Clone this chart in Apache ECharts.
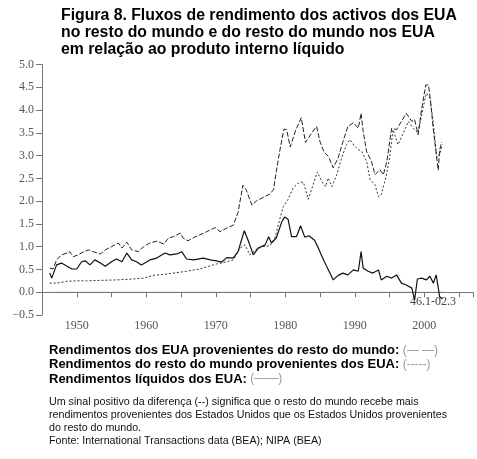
<!DOCTYPE html>
<html>
<head>
<meta charset="utf-8">
<script src="https://cdn.jsdelivr.net/npm/echarts@6/dist/echarts.min.js"></script>
<style>
  html, body { margin: 0; padding: 0; background: #fff; }
  #chart { width: 477px; height: 459px; }
</style>
</head>
<body>
<div id="chart"></div>
<script>
// Rendimentos dos EUA provenientes do resto do mundo (— —)
var recYears = [1946.1, 1946.6, 1947.1, 1947.8, 1948.6, 1949.0, 1949.5, 1950.2, 1951.0, 1951.7, 1952.4, 1953.4, 1954.1, 1955.0, 1956.0, 1956.5, 1957.2, 1957.9, 1958.9, 1959.6,
  1960.5, 1961.5, 1962.5, 1963.2, 1963.9, 1964.9, 1965.3, 1966.0, 1966.8, 1967.7, 1968.7, 1969.9, 1970.6, 1971.6, 1972.5, 1973.2, 1973.9, 1974.4, 1975.2, 1975.9,
  1976.8, 1977.8, 1978.3, 1978.7, 1979.2, 1979.8, 1980.2, 1980.7, 1981.5, 1982.3, 1982.9, 1983.4, 1983.8, 1984.5, 1985.0, 1985.6, 1986.2, 1986.9, 1987.6, 1988.3,
  1989.0, 1989.8, 1990.5, 1990.9, 1991.2, 1991.7, 1992.4, 1992.9, 1993.6, 1994.1, 1994.6, 1995.3, 1996.0, 1996.7, 1997.4, 1998.2, 1998.6, 1999.1, 1999.6, 2000.2,
  2000.6, 2000.9, 2001.3, 2001.7, 2002.0, 2002.2, 2002.5];
var recValues = [0.53, 0.51, 0.71, 0.82, 0.86, 0.89, 0.78, 0.82, 0.89, 0.93, 0.89, 0.84, 0.93, 1.00, 1.08, 0.97, 1.10, 0.93, 0.89, 1.00,
  1.08, 1.12, 1.06, 1.19, 1.22, 1.30, 1.19, 1.13, 1.20, 1.26, 1.33, 1.42, 1.33, 1.41, 1.47, 1.75, 2.35, 2.24, 1.91, 2.01,
  2.08, 2.16, 2.25, 2.65, 3.10, 3.58, 3.57, 3.19, 3.56, 3.83, 3.29, 3.40, 3.50, 3.64, 3.30, 3.07, 2.98, 2.73, 2.95, 3.31,
  3.64, 3.72, 3.60, 3.93, 3.53, 3.09, 2.87, 2.58, 2.69, 2.58, 2.87, 3.60, 3.57, 3.75, 3.93, 3.75, 3.79, 3.46, 4.01, 4.55,
  4.55, 4.19, 3.56, 3.05, 2.68, 3.12, 3.30];

// Rendimentos do resto do mundo provenientes dos EUA (-----)
var payYears = [1946.1, 1947.1, 1948.6, 1950.0, 1951.4, 1953.4, 1955.7, 1958.1, 1959.6, 1961.0, 1962.9, 1965.3, 1967.7, 1970.1, 1971.6, 1972.5, 1973.5, 1974.2, 1974.9, 1975.9,
  1976.8, 1977.8, 1978.5, 1979.2, 1979.7, 1980.4, 1981.1, 1981.9, 1982.6, 1983.3, 1984.0, 1984.6, 1985.3, 1985.8, 1986.2, 1986.7, 1987.4, 1988.1, 1988.8, 1989.3,
  1990.0, 1990.5, 1991.0, 1991.7, 1992.2, 1992.9, 1993.4, 1993.8, 1994.5, 1995.0, 1995.5, 1996.2, 1997.0, 1997.7, 1998.4, 1999.1, 1999.8, 2000.3, 2000.8, 2001.2,
  2001.5, 2001.8, 2002.2, 2002.6];
var payValues = [0.20, 0.20, 0.24, 0.25, 0.25, 0.26, 0.27, 0.29, 0.31, 0.37, 0.40, 0.45, 0.51, 0.62, 0.67, 0.71, 0.97, 1.04, 0.82, 0.95,
  1.00, 1.02, 1.19, 1.60, 1.88, 2.04, 2.28, 2.40, 2.42, 2.04, 2.36, 2.64, 2.42, 2.32, 2.51, 2.32, 2.58, 2.95, 3.24, 3.35,
  3.20, 3.13, 3.09, 2.87, 2.47, 2.36, 2.10, 2.14, 2.54, 2.95, 3.57, 3.24, 3.50, 3.75, 3.60, 3.50, 4.04, 4.37, 4.26, 3.83,
  3.39, 2.95, 3.02, 3.24];

// Rendimentos líquidos dos EUA (——)
var netYears = [1946.1, 1946.4, 1947.1, 1947.8, 1948.6, 1949.3, 1950.0, 1950.7, 1951.2, 1951.9, 1952.6, 1953.4, 1954.1, 1955.0, 1955.7, 1956.5, 1957.2, 1957.9, 1958.6, 1959.3,
  1960.1, 1960.5, 1961.5, 1962.7, 1963.4, 1964.4, 1965.1, 1965.8, 1966.8, 1968.2, 1969.2, 1970.1, 1970.8, 1971.6, 1972.5, 1973.2, 1974.1, 1974.7, 1975.4, 1976.1,
  1977.1, 1977.6, 1978.0, 1978.7, 1979.5, 1979.9, 1980.4, 1980.9, 1981.6, 1982.2, 1982.8, 1983.4, 1984.2, 1984.7, 1985.5, 1986.2, 1986.9, 1987.6, 1988.3, 1989.0,
  1989.8, 1990.5, 1990.9, 1991.2, 1991.9, 1992.6, 1993.4, 1993.8, 1994.6, 1995.3, 1996.0, 1996.7, 1997.4, 1998.2, 1998.6, 1999.0, 1999.6, 2000.3, 2000.8, 2001.3,
  2001.7, 2002.0, 2002.2, 2002.6];
var netValues = [0.42, 0.31, 0.60, 0.64, 0.57, 0.51, 0.51, 0.67, 0.69, 0.60, 0.71, 0.64, 0.57, 0.67, 0.73, 0.67, 0.86, 0.71, 0.67, 0.60,
  0.67, 0.71, 0.75, 0.86, 0.82, 0.84, 0.89, 0.73, 0.71, 0.75, 0.71, 0.69, 0.66, 0.76, 0.75, 0.89, 1.35, 1.12, 0.82, 0.97,
  1.04, 1.22, 1.08, 1.19, 1.55, 1.65, 1.60, 1.22, 1.22, 1.46, 1.21, 1.24, 1.14, 0.99, 0.71, 0.49, 0.27, 0.37, 0.42, 0.38,
  0.49, 0.46, 0.89, 0.53, 0.46, 0.42, 0.49, 0.27, 0.35, 0.31, 0.38, 0.20, 0.16, 0.09, -0.17, 0.29, 0.31, 0.27, 0.35, 0.20,
  0.38, 0.10, -0.10, -0.15];

// linha pontilhada do zero e período dos dados
var zeroYears = [1946.1, 2003.0];
var zeroValues = [0, 0];
var periodLabel = '46.1-02.3';

var titleLines = [
  'Figura 8. Fluxos de rendimento dos activos dos EUA',
  'no resto do mundo e do resto do mundo nos EUA',
  'em relação ao produto interno líquido'
];
var legendLines = [
  ['Rendimentos dos EUA provenientes do resto do mundo:', '(— —)'],
  ['Rendimentos do resto do mundo provenientes dos EUA:', '(-----)'],
  ['Rendimentos líquidos dos EUA:', '(——)']
];
var noteLines = [
  'Um sinal positivo da diferença (--) significa que o resto do mundo recebe mais',
  'rendimentos provenientes dos Estados Unidos que os Estados Unidos provenientes',
  'do resto do mundo.',
  'Fonte: International Transactions data (BEA); NIPA (BEA)'
];

function pairs(xs, ys) {
  var out = [];
  for (var i = 0; i < xs.length; i++) {
    out.push([xs[i], ys[i]]);
  }
  return out;
}

var chart = echarts.init(document.getElementById('chart'), null, { renderer: 'canvas' });

var axisFont = 'Liberation Serif';
var graphics = [];

graphics.push({
  type: 'text',
  left: 61,
  top: 7,
  style: {
    text: titleLines.join('\n'),
    font: 'bold 15.8px "Liberation Sans", Arial, sans-serif',
    lineHeight: 17,
    fill: '#000'
  }
});

for (var i = 0; i < legendLines.length; i++) {
  graphics.push({
    type: 'text',
    left: 49,
    top: 344 + i * 14.3,
    style: {
      text: '{b|' + legendLines[i][0] + '} {s|' + legendLines[i][1] + '}',
      rich: {
        b: { font: 'bold 13px "Liberation Sans", Arial, sans-serif', fill: '#000' },
        s: { font: '12px "Liberation Sans", Arial, sans-serif', fill: '#999' }
      }
    }
  });
}

graphics.push({
  type: 'text',
  left: 49,
  top: 396,
  style: {
    text: noteLines.join('\n'),
    font: '10.7px "Liberation Sans", Arial, sans-serif',
    lineHeight: 13,
    fill: '#111'
  }
});

graphics.push({
  type: 'text',
  left: 410,
  top: 296,
  style: {
    text: periodLabel,
    font: '12px "' + axisFont + '", serif',
    fill: '#444'
  }
});

var option = {
  animation: false,
  backgroundColor: '#fff',
  grid: {
    left: 42,
    right: 4,
    top: 64.5,
    bottom: 144
  },
  xAxis: {
    type: 'value',
    min: 1945,
    max: 2007,
    interval: 5,
    axisLine: { show: true, lineStyle: { color: '#777', width: 1 } },
    axisTick: { show: true, length: 5, lineStyle: { color: '#777' } },
    axisLabel: {
      margin: 5,
      color: '#555',
      fontFamily: axisFont,
      fontSize: 12,
      formatter: function (v) {
        return (v % 10 === 0 && v >= 1950 && v <= 2000) ? String(v) : '';
      }
    },
    splitLine: { show: false }
  },
  yAxis: {
    type: 'value',
    min: -0.5,
    max: 5,
    interval: 0.5,
    axisLine: { show: true, lineStyle: { color: '#777', width: 1 } },
    axisTick: { show: true, length: 6, lineStyle: { color: '#777' } },
    axisLabel: {
      margin: 8,
      color: '#555',
      fontFamily: axisFont,
      fontSize: 12,
      formatter: function (v) {
        return v.toFixed(1).replace('-', '\u2212');
      }
    },
    splitLine: { show: false }
  },
  graphic: graphics,
  series: [
    {
      name: 'zero',
      type: 'line',
      data: pairs(zeroYears, zeroValues),
      symbol: 'none',
      silent: true,
      lineStyle: { color: '#777', width: 1, type: [1, 1] }
    },
    {
      name: 'Rendimentos do resto do mundo provenientes dos EUA',
      type: 'line',
      data: pairs(payYears, payValues),
      symbol: 'none',
      lineStyle: { color: '#333', width: 1, type: [2, 2] }
    },
    {
      name: 'Rendimentos dos EUA provenientes do resto do mundo',
      type: 'line',
      data: pairs(recYears, recValues),
      symbol: 'none',
      lineStyle: { color: '#222', width: 1, type: [5, 2] }
    },
    {
      name: 'Rendimentos líquidos dos EUA',
      type: 'line',
      data: pairs(netYears, netValues),
      symbol: 'none',
      lineStyle: { color: '#111', width: 1.2 }
    }
  ]
};

chart.setOption(option);
</script>
</body>
</html>
